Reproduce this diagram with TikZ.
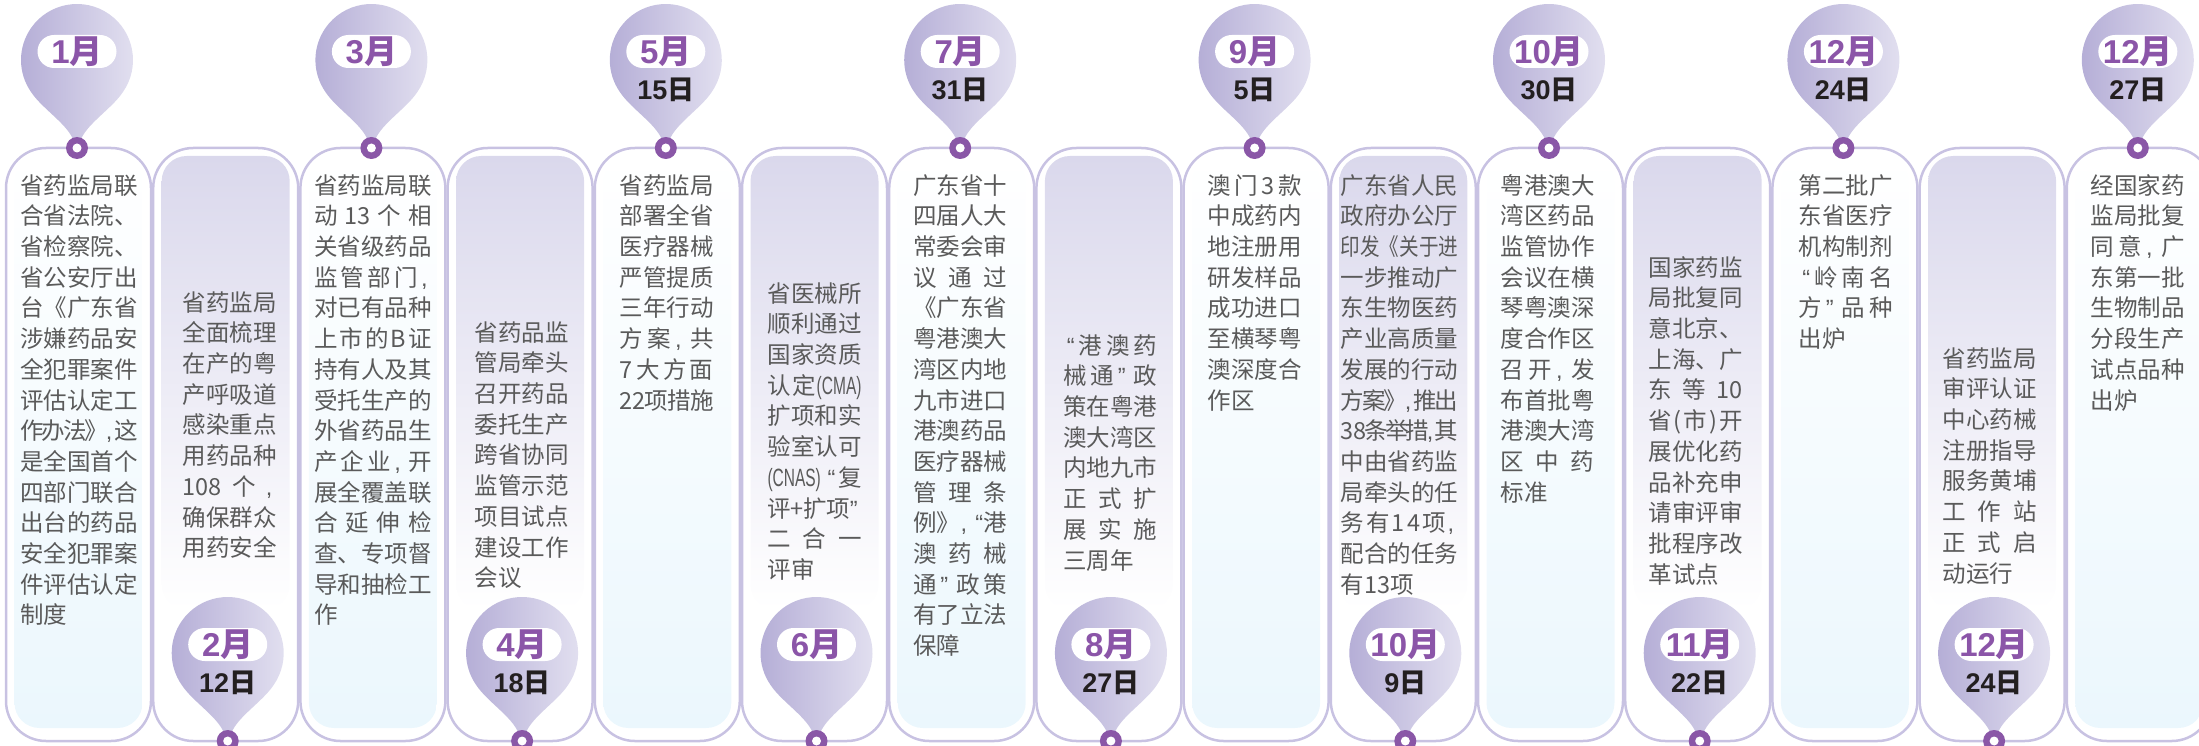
\documentclass[tikz,border=0pt]{standalone}
\usepackage{graphicx}
\usepackage{fontspec}
\setmainfont{Liberation Sans}
\newfontfamily\cjk{Noto Sans CJK SC}
\newfontfamily\narrowlat{Liberation Sans}[FakeStretch=0.62]
\usetikzlibrary{positioning}
\definecolor{framec}{HTML}{C8C2E2}
\definecolor{skyc}{HTML}{EBF7FD}
\definecolor{lavc}{HTML}{DAD8EC}
\definecolor{pinl}{HTML}{B4ADD6}
\definecolor{pinr}{HTML}{E4E2F1}
\definecolor{ringc}{HTML}{8A57A7}
\definecolor{monc}{HTML}{8B55A8}
\definecolor{txtc}{HTML}{5A5A5A}
\definecolor{dayc}{HTML}{231F20}
\newcommand\zstrut{\vrule height.86em depth.14em width0pt}
\newcommand\zoq{\hbox to.5em{\hss{\rmfamily“}}}
\newcommand\zcq{\hbox to.5em{{\rmfamily”}\hss}}
\newcommand\zcm{\hbox to.45em{{\rmfamily,}\hss}}
\newcommand\nlat[1]{{\narrowlat\fontsize{25}{25}\selectfont#1}}
\newcommand\mth[1]{#1{\cjk 月}}
\newcommand\dte[1]{#1{\cjk 日}}
\newcommand\txtcol[2]{\vbox{\hsize=#1pt\relax\baselineskip=30.7pt\lineskiplimit=-\maxdimen#2}}
\makeatletter
\def\fullln#1{\hbox to\hsize{\zstrut\fullln@a#1\relax}}
\def\fullln@a#1{{#1}\fullln@b}
\def\fullln@b#1{\ifx\relax#1\else\hskip0pt plus1fil minus3pt{#1}\expandafter\fullln@b\fi}
\def\lastln#1{\hbox{\zstrut#1}}
\def\sqzln#1#2{\hbox to\hsize{\zstrut\scalebox{#1}[1]{#2}\hss}}
\makeatother
\begin{document}
\begin{tikzpicture}[x=1pt,y=-1pt,node distance=38.5pt,on grid,
   pill/.style={fill=white,rounded corners=16.5pt,minimum width=79pt,minimum height=33pt,inner sep=0pt,text=monc,font=\bfseries\fontsize{33}{33}\selectfont},
   dayl/.style={inner sep=0pt,text=dayc,font=\bfseries\fontsize{27}{27}\selectfont},
   txt/.style={anchor=north,inner sep=0pt,text=txtc,font=\cjk\fontsize{23.5}{30.7}\selectfont},
   upbox/.pic={
      \shade[top color=white,bottom color=skyc,rounded corners=25pt] (-64,156) rectangle (64,728);
      \draw[framec,line width=2.5pt,rounded corners=40pt] (-72.5,148) rectangle (72.5,741);},
   downbox/.pic={
      \shade[top color=lavc,bottom color=white,rounded corners=25pt] (-64,156) rectangle (64,610);
      \draw[framec,line width=2.5pt,rounded corners=40pt] (-72.5,148) rectangle (72.5,741);},
   drop/.pic={
      \shade[left color=pinl,right color=pinr] (145:56) .. controls (-34,50) and (-6,66) .. (-2.5,84) -- (2.5,84) .. controls (6,66) and (34,50) .. (35:56) arc[start angle=35,end angle=-215,radius=56] -- cycle;
      \fill[ringc] (0,88) circle[radius=11];
      \fill[white] (0,88) circle[radius=4.5];}]
   \useasboundingbox (0,0) rectangle (2199,746);
   \clip (0,0) rectangle (2199,746);

   \pic at (78.5,0) {upbox};
   \pic at (225.7,0) {downbox};
   \pic at (372.9,0) {upbox};
   \pic at (520.1,0) {downbox};
   \pic at (667.3,0) {upbox};
   \pic at (814.5,0) {downbox};
   \pic at (961.7,0) {upbox};
   \pic at (1108.9,0) {downbox};
   \pic at (1256.1,0) {upbox};
   \pic at (1403.3,0) {downbox};
   \pic at (1550.5,0) {upbox};
   \pic at (1697.7,0) {downbox};
   \pic at (1844.9,0) {upbox};
   \pic at (1992.1,0) {downbox};
   \pic at (2139.3,0) {upbox};

   \pic at (77,60) {drop};
   \pic at (227.7,653) {drop};
   \pic at (371.4,60) {drop};
   \pic at (522.1,653) {drop};
   \pic at (665.8,60) {drop};
   \pic at (816.5,653) {drop};
   \pic at (960.2,60) {drop};
   \pic at (1110.9,653) {drop};
   \pic at (1254.6,60) {drop};
   \pic at (1405.3,653) {drop};
   \pic at (1549,60) {drop};
   \pic at (1699.7,653) {drop};
   \pic at (1843.4,60) {drop};
   \pic at (1994.1,653) {drop};
   \pic at (2137.8,60) {drop};

   \node[pill] (m_1) at (77,51.5) {\mth{1}};
   \node[pill] (m_2) at (227.7,644.5) {\mth{2}};
   \node[dayl] (d_2) [below=of m_2] {\dte{12}};
   \node[pill] (m_3) at (371.4,51.5) {\mth{3}};
   \node[pill] (m_4) at (522.1,644.5) {\mth{4}};
   \node[dayl] (d_4) [below=of m_4] {\dte{18}};
   \node[pill] (m_5) at (665.8,51.5) {\mth{5}};
   \node[dayl] (d_5) [below=of m_5] {\dte{15}};
   \node[pill] (m_6) at (816.5,644.5) {\mth{6}};
   \node[pill] (m_7) at (960.2,51.5) {\mth{7}};
   \node[dayl] (d_7) [below=of m_7] {\dte{31}};
   \node[pill] (m_8) at (1110.9,644.5) {\mth{8}};
   \node[dayl] (d_8) [below=of m_8] {\dte{27}};
   \node[pill] (m_9) at (1254.6,51.5) {\mth{9}};
   \node[dayl] (d_9) [below=of m_9] {\dte{5}};
   \node[pill] (m_10) at (1405.3,644.5) {\mth{10}};
   \node[dayl] (d_10) [below=of m_10] {\dte{9}};
   \node[pill] (m_11) at (1549,51.5) {\mth{10}};
   \node[dayl] (d_11) [below=of m_11] {\dte{30}};
   \node[pill] (m_12) at (1699.7,644.5) {\mth{11}};
   \node[dayl] (d_12) [below=of m_12] {\dte{22}};
   \node[pill] (m_13) at (1843.4,51.5) {\mth{12}};
   \node[dayl] (d_13) [below=of m_13] {\dte{24}};
   \node[pill] (m_14) at (1994.1,644.5) {\mth{12}};
   \node[dayl] (d_14) [below=of m_14] {\dte{24}};
   \node[pill] (m_15) at (2137.8,51.5) {\mth{12}};
   \node[dayl] (d_15) [below=of m_15] {\dte{27}};

   \node[txt] (t_1) at (79,173.7) {\txtcol{117.5}{%
      \fullln{省药监局联}\fullln{合省法院、}\fullln{省检察院、}\fullln{省公安厅出}
      \fullln{台《广东省}\fullln{涉嫌药品安}\fullln{全犯罪案件}\fullln{评估认定工}
      \fullln{作办法》\zcm 这}\fullln{是全国首个}\fullln{四部门联合}\fullln{出台的药品}
      \fullln{安全犯罪案}\fullln{件评估认定}\lastln{制度}}};
   \node[txt] (t_2) at (229.5,290.7) {\txtcol{94}{%
      \fullln{省药监局}\fullln{全面梳理}\fullln{在产的粤}\fullln{产呼吸道}
      \fullln{感染重点}\fullln{用药品种}\fullln{{108}个\zcm}\fullln{确保群众}
      \fullln{用药安全}}};
   \node[txt] (t_3) at (373,173.7) {\txtcol{117.5}{%
      \fullln{省药监局联}\fullln{动{13}个相}\fullln{关省级药品}\fullln{监管部门\zcm}
      \fullln{对已有品种}\fullln{上市的B证}\fullln{持有人及其}\fullln{受托生产的}
      \fullln{外省药品生}\fullln{产企业\zcm 开}\fullln{展全覆盖联}\fullln{合延伸检}
      \fullln{查、专项督}\fullln{导和抽检工}\lastln{作}}};
   \node[txt] (t_4) at (521.5,320.7) {\txtcol{94}{%
      \fullln{省药品监}\fullln{管局牵头}\fullln{召开药品}\fullln{委托生产}
      \fullln{跨省协同}\fullln{监管示范}\fullln{项目试点}\fullln{建设工作}
      \lastln{会议}}};
   \node[txt] (t_5) at (666.5,173.7) {\txtcol{94}{%
      \fullln{省药监局}\fullln{部署全省}\fullln{医疗器械}\fullln{严管提质}
      \fullln{三年行动}\fullln{方案\zcm 共}\fullln{7大方面}\fullln{{22}项措施}}};
   \node[txt] (t_6) at (814.5,281.7) {\txtcol{94}{%
      \fullln{省医械所}\fullln{顺利通过}\fullln{国家资质}\fullln{认定{\nlat{(CMA)}}}
      \fullln{扩项和实}\fullln{验室认可}\fullln{{\nlat{(CNAS)}}\zoq 复}\fullln{评+扩项\zcq}
      \fullln{二合一}\lastln{评审}}};
   \node[txt] (t_7) at (960,173.7) {\txtcol{94}{%
      \fullln{广东省十}\fullln{四届人大}\fullln{常委会审}\fullln{议通过}
      \fullln{《广东省}\fullln{粤港澳大}\fullln{湾区内地}\fullln{九市进口}
      \fullln{港澳药品}\fullln{医疗器械}\fullln{管理条}\fullln{例》\zcm\zoq 港}
      \fullln{澳药械}\fullln{通\zcq 政策}\fullln{有了立法}\lastln{保障}}};
   \node[txt] (t_8) at (1110,333.7) {\txtcol{94}{%
      \fullln{\zoq 港澳药}\fullln{械通\zcq 政}\fullln{策在粤港}\fullln{澳大湾区}
      \fullln{内地九市}\fullln{正式扩}\fullln{展实施}\lastln{三周年}}};
   \node[txt] (t_9) at (1254.5,173.7) {\txtcol{94}{%
      \fullln{澳门3款}\fullln{中成药内}\fullln{地注册用}\fullln{研发样品}
      \fullln{成功进口}\fullln{至横琴粤}\fullln{澳深度合}\lastln{作区}}};
   \node[txt] (t_10) at (1399.5,173.7) {\txtcol{117.5}{%
      \fullln{广东省人民}\fullln{政府办公厅}\sqzln{0.833}{印发《关于进}\fullln{一步推动广}
      \fullln{东生物医药}\fullln{产业高质量}\fullln{发展的行动}\fullln{方案》\zcm 推出}
      \fullln{{38}条举措\zcm 其}\fullln{中由省药监}\fullln{局牵头的任}\fullln{务有14项\zcm}
      \fullln{配合的任务}\lastln{有13项}}};
   \node[txt] (t_11) at (1547.5,173.7) {\txtcol{94}{%
      \fullln{粤港澳大}\fullln{湾区药品}\fullln{监管协作}\fullln{会议在横}
      \fullln{琴粤澳深}\fullln{度合作区}\fullln{召开\zcm 发}\fullln{布首批粤}
      \fullln{港澳大湾}\fullln{区中药}\lastln{标准}}};
   \node[txt] (t_12) at (1695.5,255.7) {\txtcol{94}{%
      \fullln{国家药监}\fullln{局批复同}\fullln{意北京、}\fullln{上海、广}
      \fullln{东等{10}}\fullln{省(市)开}\fullln{展优化药}\fullln{品补充申}
      \fullln{请审评审}\fullln{批程序改}\lastln{革试点}}};
   \node[txt] (t_13) at (1845.5,173.7) {\txtcol{94}{%
      \fullln{第二批广}\fullln{东省医疗}\fullln{机构制剂}\fullln{\zoq 岭南名}
      \fullln{方\zcq 品种}\lastln{出炉}}};
   \node[txt] (t_14) at (1989.5,346.7) {\txtcol{94}{%
      \fullln{省药监局}\fullln{审评认证}\fullln{中心药械}\fullln{注册指导}
      \fullln{服务黄埔}\fullln{工作站}\fullln{正式启}\lastln{动运行}}};
   \node[txt] (t_15) at (2137.5,173.7) {\txtcol{94}{%
      \fullln{经国家药}\fullln{监局批复}\fullln{同意\zcm 广}\fullln{东第一批}
      \fullln{生物制品}\fullln{分段生产}\fullln{试点品种}\lastln{出炉}}};
\end{tikzpicture}
\end{document}
